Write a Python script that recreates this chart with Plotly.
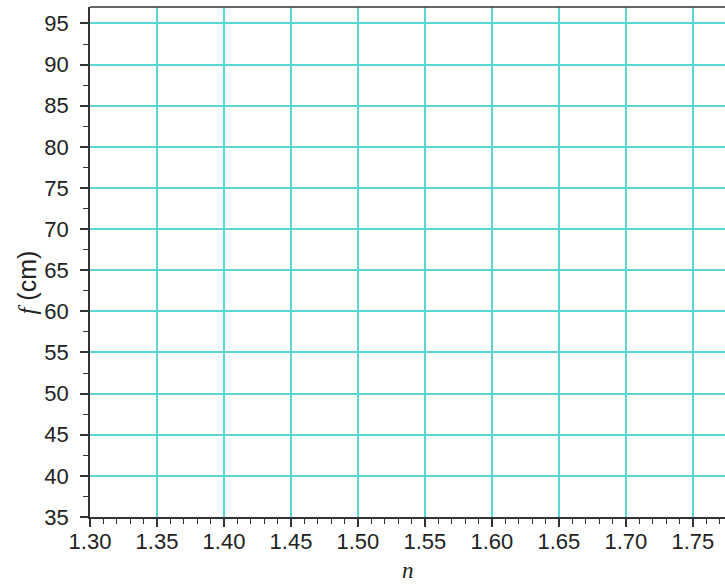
import plotly.graph_objects as go

x_range = [1.30, 1.774]
y_range = [35, 97]
x_ticks = [1.30, 1.35, 1.40, 1.45, 1.50, 1.55, 1.60, 1.65, 1.70, 1.75]
x_tick_labels = ["1.30", "1.35", "1.40", "1.45", "1.50", "1.55", "1.60", "1.65", "1.70", "1.75"]
y_ticks = [35, 40, 45, 50, 55, 60, 65, 70, 75, 80, 85, 90, 95]
y_tick_labels = [str(v) for v in y_ticks]

grid_color = "#5AD6D6"
axis_color = "#333333"
tick_font = dict(family="Liberation Sans, Arial", size=22, color="#222222")

fig = go.Figure()
fig.add_trace(go.Scatter(x=[None], y=[None], mode="markers", showlegend=False, hoverinfo="skip"))

fig.update_xaxes(
    range=x_range, tickmode="array", tickvals=x_ticks, ticktext=x_tick_labels,
    showgrid=True, gridcolor=grid_color, gridwidth=1.5,
    showline=True, linecolor=axis_color, linewidth=1.5,
    ticks="outside", ticklen=8, tickwidth=1.5, tickcolor=axis_color,
    ticklabelstandoff=-4,
    minor=dict(dtick=0.01, tick0=1.30, ticks="outside", ticklen=5, tickwidth=1.2, tickcolor=axis_color, showgrid=False),
    tickfont=tick_font, zeroline=False,
)
fig.update_yaxes(
    range=y_range, tickmode="array", tickvals=y_ticks, ticktext=y_tick_labels,
    showgrid=True, gridcolor=grid_color, gridwidth=1.5,
    showline=True, linecolor=axis_color, linewidth=1.5,
    ticks="outside", ticklen=8, tickwidth=1.5, tickcolor=axis_color,
    ticklabelstandoff=7,
    minor=dict(dtick=2.5, tick0=35, ticks="outside", ticklen=5, tickwidth=1.2, tickcolor=axis_color, showgrid=False),
    tickfont=tick_font, zeroline=False,
)

# top border
fig.add_shape(type="line", xref="paper", yref="paper", x0=0, x1=1, y0=1, y1=1,
              line=dict(color=axis_color, width=1.5))

fig.add_annotation(
    text="<span style='font-family:Liberation Serif'><i>n</i></span>",
    xref="paper", yref="paper", x=0.5, y=-0.1335, xanchor="center", yanchor="bottom",
    showarrow=False, font=dict(family="Liberation Serif", size=23, color="#222222"),
)
fig.add_annotation(
    text="<span style='font-family:Liberation Serif'><i>f</i></span> (cm)",
    xref="paper", yref="paper", x=-0.099, y=0.46, xanchor="center", yanchor="middle",
    textangle=-90, showarrow=False, font=dict(family="Liberation Sans, Arial", size=25, color="#222222"),
)

fig.update_layout(
    width=725, height=585,
    margin=dict(l=90, r=0, t=7, b=68),
    paper_bgcolor="white", plot_bgcolor="white",
    showlegend=False,
)

fig.write_html("out.html", config={"displayModeBar": False},
               post_script="document.body.style.margin='0';document.body.style.padding='0';")
